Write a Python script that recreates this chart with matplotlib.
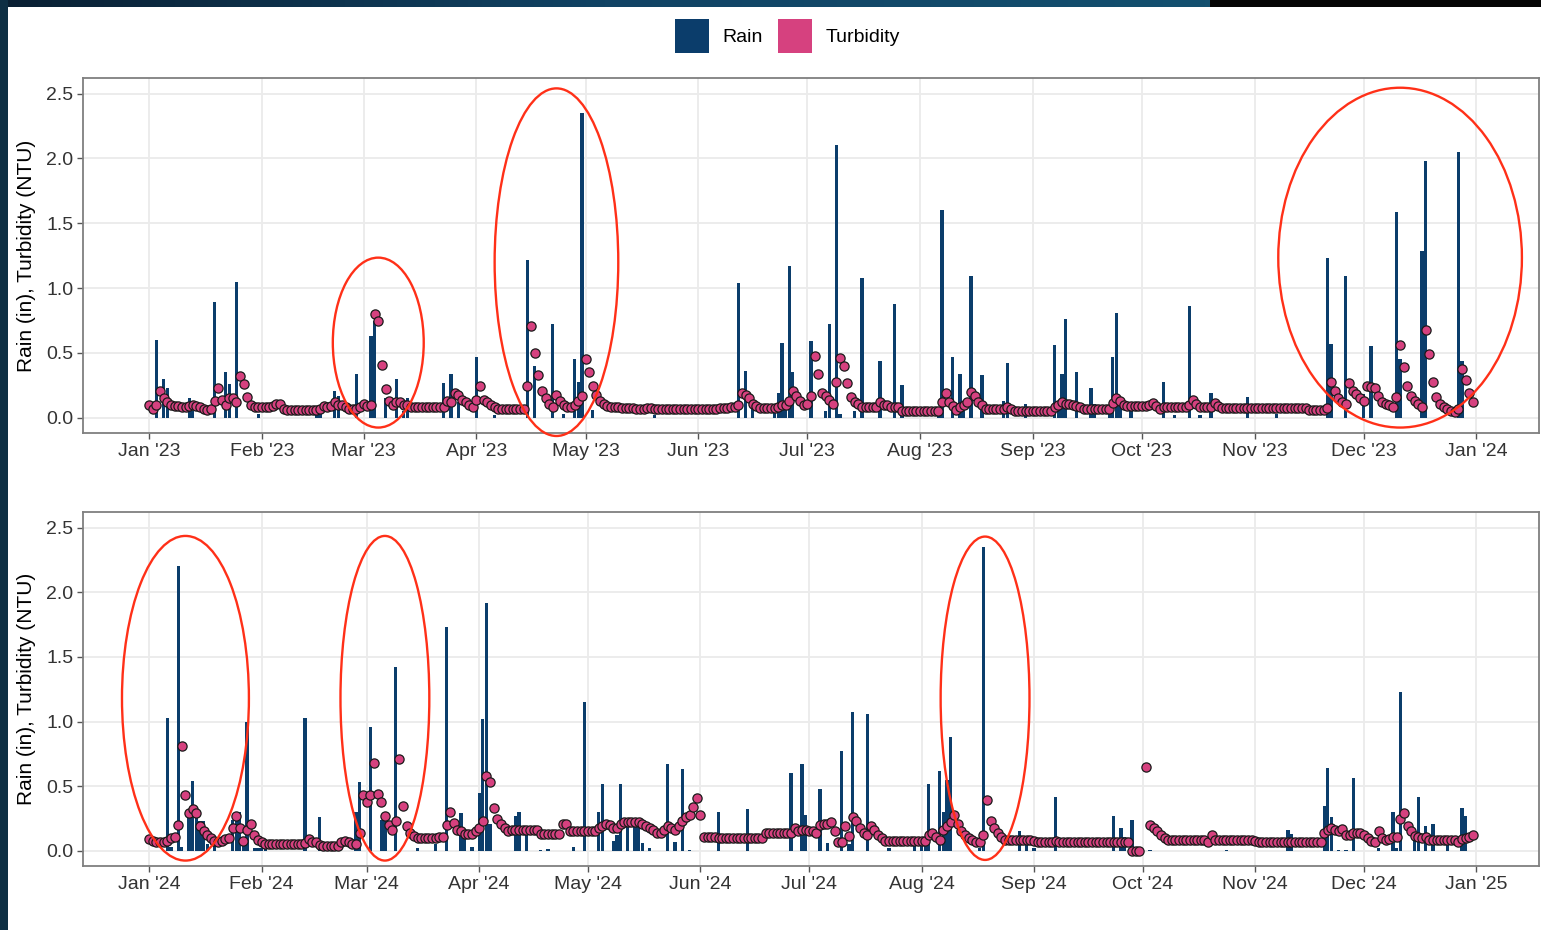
import matplotlib.pyplot as plt
import matplotlib.dates as mdates
from matplotlib.patches import Ellipse, Patch, Rectangle
import numpy as np
import pandas as pd

plt.rcParams['font.family'] = ['Liberation Sans', 'DejaVu Sans']

# Colors
rain_color = "#0B3D6B"
turb_color = "#D6417F"
ring_color = "#FF3018"
grid_color = "#EBEBEB"
border_color = "#7F7F7F"
tick_text = "#333333"

# Data: daily rain (only days with rain), inches
rain_2023_dates = [
    "01-03", "01-05", "01-06", "01-12", "01-13", "01-19", "01-22", "01-23", "01-25", "01-31",
    "02-16", "02-17", "02-21", "02-22", "02-27", "03-03", "03-04", "03-07", "03-10", "03-12",
    "03-13", "03-23", "03-25", "03-27", "04-01", "04-06", "04-15", "04-17", "04-22", "04-25",
    "04-28", "04-29", "04-30", "05-03", "05-20", "06-12", "06-14", "06-16", "06-22", "06-23",
    "06-24", "06-25", "06-26", "06-27", "07-02", "07-06", "07-07", "07-09", "07-10", "07-14",
    "07-16", "07-21", "07-25", "07-27", "08-06", "08-07", "08-10", "08-12", "08-13", "08-15",
    "08-18", "08-24", "08-25", "08-30", "09-07", "09-08", "09-09", "09-10", "09-13", "09-17",
    "09-18", "09-22", "09-23", "09-24", "09-25", "09-28", "10-07", "10-10", "10-14", "10-17",
    "10-20", "10-30", "11-07", "11-21", "11-22", "11-26", "12-01", "12-03", "12-10", "12-11",
    "12-17", "12-18", "12-27", "12-28",
]
rain_2023_in = [
    0.60, 0.30, 0.23, 0.15, 0.05, 0.89, 0.35, 0.26, 1.05, 0.03,
    0.09, 0.09, 0.21, 0.17, 0.34, 0.63, 0.75, 0.15, 0.30, 0.05,
    0.15, 0.27, 0.34, 0.12, 0.47, 0.02, 1.22, 0.40, 0.72, 0.03,
    0.45, 0.28, 2.35, 0.06, 0.02, 1.04, 0.36, 0.10, 0.10, 0.19,
    0.58, 0.10, 1.17, 0.35, 0.59, 0.05, 0.72, 2.10, 0.03, 0.05,
    1.08, 0.44, 0.88, 0.25, 0.06, 1.60, 0.47, 0.34, 0.06, 1.09,
    0.33, 0.13, 0.42, 0.11, 0.56, 0.06, 0.34, 0.76, 0.35, 0.23,
    0.11, 0.07, 0.47, 0.81, 0.10, 0.05, 0.28, 0.02, 0.86, 0.02,
    0.19, 0.16, 0.03, 1.23, 0.57, 1.09, 0.18, 0.55, 1.59, 0.45,
    1.29, 1.98, 2.05, 0.44,
]

rain_2024_dates = [
    "01-06", "01-07", "01-09", "01-10", "01-12", "01-13", "01-14", "01-15", "01-16", "01-17",
    "01-19", "01-24", "01-25", "01-26", "01-27", "01-28", "01-30", "01-31", "02-01", "02-02",
    "02-13", "02-17", "02-27", "02-28", "03-02", "03-05", "03-06", "03-09", "03-15", "03-20",
    "03-23", "03-27", "03-28", "03-30", "04-01", "04-02", "04-03", "04-04", "04-11", "04-12",
    "04-14", "04-18", "04-20", "04-27", "04-30", "05-04", "05-05", "05-08", "05-09", "05-10",
    "05-12", "05-14", "05-15", "05-16", "05-18", "05-23", "05-25", "05-27", "05-29", "06-06",
    "06-14", "06-26", "06-29", "06-30", "07-04", "07-06", "07-10", "07-12", "07-13", "07-17",
    "07-23", "07-30", "08-01", "08-02", "08-03", "08-06", "08-07", "08-08", "08-09", "08-17",
    "08-18", "08-28", "08-30", "09-01", "09-07", "09-23", "09-25", "09-26", "09-28", "10-03",
    "10-24", "11-10", "11-11", "11-20", "11-21", "11-22", "11-24", "11-26", "11-28", "12-05",
    "12-09", "12-10", "12-11", "12-15", "12-16", "12-18", "12-20", "12-24", "12-28", "12-29",
]
rain_2024_in = [
    1.03, 0.03, 2.20, 0.03, 0.30, 0.54, 0.34, 0.23, 0.23, 0.05,
    0.06, 0.24, 0.29, 0.30, 0.05, 1.00, 0.02, 0.02, 0.02, 0.08,
    1.03, 0.26, 0.30, 0.53, 0.96, 0.24, 0.24, 1.42, 0.02, 0.05,
    1.73, 0.29, 0.10, 0.03, 0.45, 1.02, 1.92, 0.21, 0.27, 0.30,
    0.19, 0.01, 0.015, 0.03, 1.15, 0.30, 0.52, 0.08, 0.12, 0.52,
    0.25, 0.25, 0.21, 0.06, 0.02, 0.67, 0.07, 0.63, 0.01, 0.30,
    0.32, 0.60, 0.67, 0.28, 0.48, 0.06, 0.77, 0.05, 1.07, 1.06,
    0.02, 0.07, 0.05, 0.05, 0.52, 0.62, 0.30, 0.55, 0.88, 0.02,
    2.35, 0.15, 0.05, 0.02, 0.42, 0.27, 0.18, 0.11, 0.24, 0.01,
    0.01, 0.16, 0.13, 0.35, 0.64, 0.26, 0.01, 0.01, 0.56, 0.02,
    0.30, 0.02, 1.23, 0.14, 0.42, 0.19, 0.21, 0.06, 0.33, 0.27,
]

# Data: daily turbidity (NTU), one list per month
turbidity_2023 = [
    [0.10, 0.07, 0.10, 0.21, 0.15, 0.12, 0.10, 0.09, 0.09, 0.08, 0.08, 0.09, 0.10, 0.09, 0.08, 0.07,
     0.06, 0.07, 0.13, 0.23, 0.14, 0.10, 0.15, 0.15, 0.12, 0.32, 0.26, 0.16, 0.10, 0.08, 0.08],
    [0.08, 0.08, 0.08, 0.09, 0.11, 0.11, 0.07, 0.06, 0.06, 0.06, 0.06, 0.06, 0.06, 0.06, 0.06, 0.06,
     0.07, 0.095, 0.08, 0.09, 0.12, 0.10, 0.10, 0.08, 0.07, 0.07, 0.07, 0.08],
    [0.11, 0.09, 0.10, 0.80, 0.75, 0.41, 0.22, 0.13, 0.10, 0.12, 0.12, 0.10, 0.10, 0.08, 0.08, 0.08,
     0.08, 0.08, 0.08, 0.08, 0.08, 0.08, 0.08, 0.13, 0.12, 0.19, 0.175, 0.14, 0.12, 0.10, 0.085],
    [0.14, 0.245, 0.14, 0.12, 0.10, 0.08, 0.065, 0.065, 0.065, 0.065, 0.065, 0.065, 0.065, 0.065,
     0.245, 0.71, 0.50, 0.33, 0.21, 0.15, 0.11, 0.085, 0.175, 0.13, 0.10, 0.08, 0.08, 0.10, 0.13, 0.17],
    [0.45, 0.35, 0.245, 0.175, 0.13, 0.105, 0.09, 0.08, 0.08, 0.08, 0.075, 0.072, 0.072, 0.072, 0.07,
     0.07, 0.07, 0.072, 0.072, 0.07, 0.07, 0.07, 0.07, 0.07, 0.07, 0.07, 0.07, 0.07, 0.07, 0.07, 0.07],
    [0.07, 0.07, 0.07, 0.07, 0.07, 0.07, 0.072, 0.072, 0.075, 0.08, 0.08, 0.10, 0.19, 0.175, 0.15,
     0.105, 0.09, 0.072, 0.072, 0.072, 0.072, 0.072, 0.085, 0.10, 0.10, 0.13, 0.21, 0.17, 0.13, 0.10],
    [0.11, 0.17, 0.48, 0.34, 0.19, 0.17, 0.14, 0.11, 0.28, 0.46, 0.40, 0.27, 0.16, 0.12, 0.11, 0.08,
     0.08, 0.08, 0.08, 0.08, 0.12, 0.10, 0.10, 0.08, 0.08, 0.08, 0.055, 0.055, 0.055, 0.055, 0.055],
    [0.055, 0.055, 0.055, 0.055, 0.055, 0.055, 0.12, 0.19, 0.12, 0.09, 0.06, 0.08, 0.10, 0.12, 0.20,
     0.17, 0.12, 0.10, 0.07, 0.07, 0.07, 0.07, 0.07, 0.07, 0.08, 0.07, 0.055, 0.055, 0.055, 0.055, 0.055],
    [0.055, 0.055, 0.055, 0.055, 0.055, 0.055, 0.08, 0.10, 0.12, 0.11, 0.11, 0.10, 0.09, 0.08, 0.07,
     0.065, 0.065, 0.065, 0.065, 0.065, 0.065, 0.065, 0.115, 0.155, 0.13, 0.10, 0.09, 0.09, 0.09, 0.09],
    [0.09, 0.09, 0.10, 0.115, 0.09, 0.07, 0.08, 0.08, 0.08, 0.08, 0.08, 0.08, 0.08, 0.10, 0.14, 0.11,
     0.085, 0.085, 0.085, 0.085, 0.115, 0.09, 0.072, 0.072, 0.072, 0.072, 0.072, 0.072, 0.072, 0.072, 0.072],
    [0.072, 0.072, 0.072, 0.072, 0.072, 0.072, 0.072, 0.072, 0.072, 0.072, 0.072, 0.072, 0.072, 0.072,
     0.072, 0.062, 0.062, 0.062, 0.062, 0.062, 0.072, 0.28, 0.21, 0.15, 0.12, 0.11, 0.27, 0.21, 0.18, 0.15],
    [0.13, 0.245, 0.24, 0.23, 0.17, 0.12, 0.105, 0.10, 0.08, 0.16, 0.56, 0.39, 0.245, 0.17, 0.13, 0.105,
     0.08, 0.68, 0.49, 0.28, 0.16, 0.11, 0.08, 0.065, 0.055, 0.045, 0.07, 0.38, 0.29, 0.19, 0.12],
]

turbidity_2024 = [
    [0.09, 0.08, 0.07, 0.065, 0.065, 0.08, 0.10, 0.11, 0.20, 0.81, 0.43, 0.29, 0.32, 0.29, 0.19, 0.15,
     0.125, 0.10, 0.08, 0.07, 0.08, 0.09, 0.10, 0.175, 0.27, 0.175, 0.08, 0.16, 0.21, 0.12, 0.085],
    [0.065, 0.055, 0.055, 0.055, 0.055, 0.055, 0.055, 0.055, 0.055, 0.055, 0.055, 0.055, 0.06, 0.09,
     0.07, 0.065, 0.045, 0.04, 0.04, 0.04, 0.04, 0.04, 0.07, 0.08, 0.065, 0.055, 0.055, 0.14, 0.43],
    [0.38, 0.43, 0.68, 0.44, 0.38, 0.27, 0.20, 0.16, 0.23, 0.71, 0.35, 0.19, 0.14, 0.115, 0.10, 0.10,
     0.10, 0.10, 0.10, 0.10, 0.11, 0.105, 0.20, 0.30, 0.215, 0.16, 0.15, 0.13, 0.13, 0.13, 0.15],
    [0.18, 0.23, 0.58, 0.53, 0.33, 0.25, 0.21, 0.175, 0.15, 0.16, 0.16, 0.16, 0.16, 0.16, 0.16, 0.16,
     0.16, 0.13, 0.13, 0.13, 0.13, 0.13, 0.13, 0.21, 0.21, 0.15, 0.15, 0.15, 0.15, 0.15],
    [0.15, 0.15, 0.15, 0.175, 0.19, 0.21, 0.20, 0.175, 0.175, 0.21, 0.22, 0.22, 0.22, 0.22, 0.22, 0.21,
     0.19, 0.175, 0.16, 0.14, 0.14, 0.16, 0.19, 0.175, 0.16, 0.19, 0.23, 0.26, 0.28, 0.34, 0.41],
    [0.28, 0.11, 0.11, 0.11, 0.11, 0.10, 0.10, 0.10, 0.10, 0.10, 0.10, 0.10, 0.10, 0.10, 0.10, 0.10,
     0.10, 0.10, 0.14, 0.14, 0.14, 0.14, 0.14, 0.14, 0.14, 0.14, 0.175, 0.15, 0.16, 0.16],
    [0.15, 0.15, 0.14, 0.20, 0.21, 0.21, 0.225, 0.15, 0.07, 0.07, 0.19, 0.115, 0.26, 0.23, 0.175, 0.14,
     0.12, 0.19, 0.16, 0.125, 0.10, 0.08, 0.08, 0.08, 0.08, 0.08, 0.08, 0.08, 0.08, 0.08, 0.08],
    [0.08, 0.08, 0.125, 0.14, 0.11, 0.085, 0.16, 0.19, 0.22, 0.28, 0.21, 0.15, 0.125, 0.10, 0.085, 0.07,
     0.065, 0.12, 0.39, 0.23, 0.18, 0.14, 0.11, 0.085, 0.085, 0.085, 0.085, 0.085, 0.085, 0.085, 0.085],
    [0.075, 0.07, 0.07, 0.07, 0.07, 0.07, 0.075, 0.07, 0.07, 0.07, 0.07, 0.07, 0.07, 0.07, 0.07, 0.07,
     0.07, 0.07, 0.07, 0.07, 0.07, 0.07, 0.07, 0.07, 0.07, 0.07, 0.065, 0.0, 0.0, 0.0],
    [None, 0.65, 0.20, 0.175, 0.15, 0.125, 0.10, 0.085, 0.085, 0.085, 0.085, 0.085, 0.085, 0.085, 0.085,
     0.085, 0.085, 0.085, 0.07, 0.12, 0.085, 0.085, 0.085, 0.085, 0.085, 0.085, 0.085, 0.085, 0.085,
     0.085, 0.085],
    [0.08, 0.072, 0.072, 0.072, 0.072, 0.072, 0.072, 0.072, 0.072, 0.072, 0.072, 0.072, 0.072, 0.072,
     0.072, 0.072, 0.072, 0.072, 0.072, 0.135, 0.16, 0.175, 0.16, 0.15, 0.17, 0.125, 0.125, 0.135,
     0.135, 0.135],
    [0.125, 0.10, 0.08, 0.072, 0.15, 0.10, 0.085, 0.09, 0.11, 0.11, 0.25, 0.29, 0.19, 0.15, 0.115, 0.11,
     0.10, 0.105, 0.085, 0.085, 0.085, 0.085, 0.085, 0.085, 0.085, 0.085, 0.07, 0.09, 0.10, 0.11, 0.12],
]

# Highlighted events: (panel year, center date, center value, width in days, height)
highlights = [
    (2023, "2023-03-05", 0.58, 25, 1.31),
    (2023, "2023-04-23", 1.20, 34, 2.68),
    (2023, "2023-12-11", 1.235, 67, 2.62),
    (2024, "2024-01-11", 1.18, 35, 2.51),
    (2024, "2024-03-06", 1.18, 24.5, 2.51),
    (2024, "2024-08-18 12:00", 1.18, 24.5, 2.50),
]

years = [2023, 2024]
rain_dates = {2023: rain_2023_dates, 2024: rain_2024_dates}
rain_values = {2023: rain_2023_in, 2024: rain_2024_in}
turbidity = {2023: turbidity_2023, 2024: turbidity_2024}

fig = plt.figure(figsize=(15.41, 9.30), dpi=100, facecolor="white")
ax_rects = {2023: [83 / 1541, 1 - 433 / 930, 1456 / 1541, 355 / 930],
            2024: [83 / 1541, 1 - 866 / 930, 1456 / 1541, 354 / 930]}

for year in years:
    ax = fig.add_axes(ax_rects[year])
    start = pd.Timestamp(f"{year}-01-01")
    end = pd.Timestamp(f"{year}-12-31")

    # Rain bars
    r_dates = pd.to_datetime([f"{year}-{d}" for d in rain_dates[year]])
    ax.bar(r_dates, rain_values[year], width=0.9, color=rain_color, zorder=2)

    # Turbidity points
    t_vals = [v for month in turbidity[year] for v in month]
    t_dates = pd.date_range(start, end, freq="D")
    t = pd.Series(t_vals, index=t_dates, dtype=float).dropna()
    ax.scatter(t.index, t.values, s=44, color=turb_color, edgecolor="#1A1A1A",
               linewidth=0.9, zorder=3)

    # Red rings
    for hy, center, cy, w, h in highlights:
        if hy != year:
            continue
        ring = Ellipse((mdates.date2num(pd.Timestamp(center)), cy), w, h,
                       fill=False, edgecolor=ring_color, linewidth=1.7,
                       clip_on=False, zorder=4)
        ax.add_patch(ring)

    # Axes limits (5% padding like the original)
    span = (end - start).days
    ax.set_xlim(start - pd.Timedelta(days=span * 0.05), end + pd.Timedelta(days=span * 0.05))
    ax.set_ylim(-0.117, 2.62)

    # Ticks
    ticks = pd.date_range(start, f"{year + 1}-01-01", freq="MS")
    ax.set_xticks(ticks)
    ax.set_xticklabels([d.strftime("%b '%y") for d in ticks])
    ax.set_yticks([0, 0.5, 1.0, 1.5, 2.0, 2.5])
    ax.set_yticklabels(["0.0", "0.5", "1.0", "1.5", "2.0", "2.5"])
    ax.tick_params(axis="both", length=4, width=1.0, color="#555555",
                   labelsize=14, labelcolor=tick_text, pad=3)

    # Grid and border
    ax.grid(True, color=grid_color, linewidth=1.3, zorder=0)
    ax.set_axisbelow(True)
    for spine in ax.spines.values():
        spine.set_color(border_color)
        spine.set_linewidth(1.3)

    ax.set_ylabel("Rain (in), Turbidity (NTU)", fontsize=15, color="black", labelpad=7)

# Legend
handles = [Patch(facecolor=rain_color, label="Rain"),
           Patch(facecolor=turb_color, label="Turbidity")]
fig.legend(handles=handles, loc="center", bbox_to_anchor=(0.511, 0.961), ncol=2,
           frameon=False, fontsize=14, handlelength=1.75, handleheight=2.3,
           handletextpad=0.7, columnspacing=0.8)

# Dark slide frame at the top and left edges
band = fig.add_axes([0, 1 - 7 / 930, 1210 / 1541, 7 / 930])
band.imshow(np.linspace(0, 1, 256).reshape(1, -1), aspect="auto",
            cmap=plt.matplotlib.colors.LinearSegmentedColormap.from_list(
                "band", ["#0A2033", "#114364", "#14506F"]))
band.axis("off")
fig.patches.append(Rectangle((1210 / 1541, 1 - 7 / 930), 331 / 1541, 7 / 930,
                             transform=fig.transFigure, facecolor="#050505", edgecolor="none", zorder=10))
fig.patches.append(Rectangle((0, 0), 8 / 1541, 1, transform=fig.transFigure,
                             facecolor="#0E2F44", edgecolor="none", zorder=10))

fig.savefig("out.png", dpi=100, facecolor="white")
